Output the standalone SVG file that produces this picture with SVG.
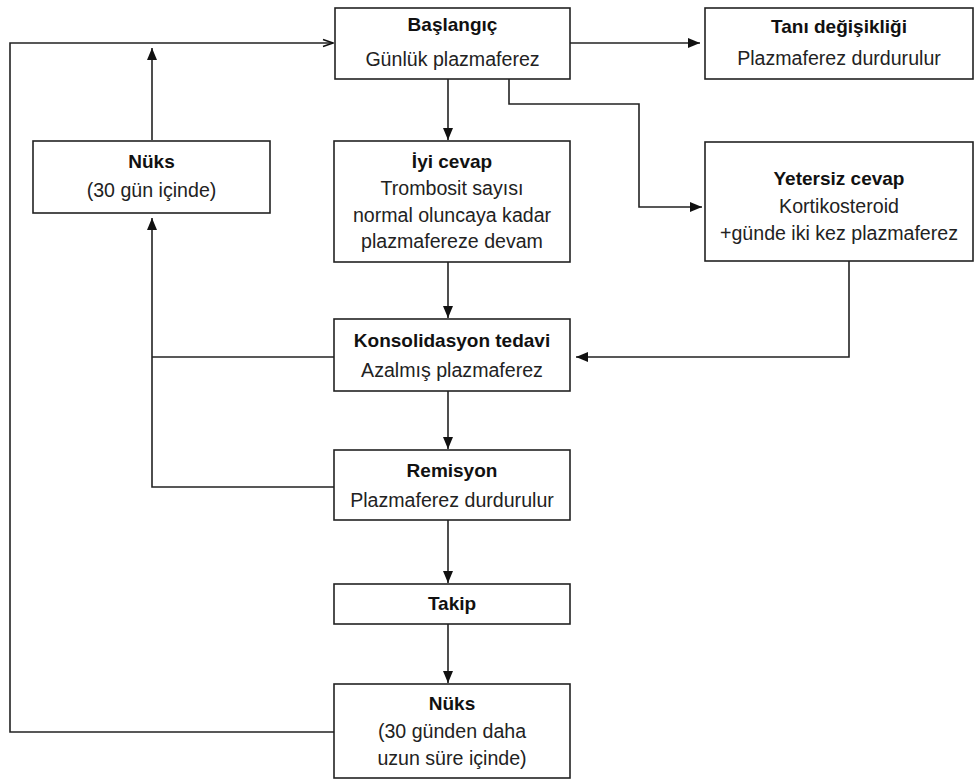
<svg xmlns="http://www.w3.org/2000/svg" width="976" height="780" viewBox="0 0 976 780">
<defs>
<marker id="arr" viewBox="0 0 12 10" refX="12" refY="5" markerWidth="12" markerHeight="10" markerUnits="userSpaceOnUse" orient="auto">
<path d="M0,0 L12,5 L0,10 Z" fill="#111"/>
</marker>
<marker id="open" viewBox="0 0 12 10" refX="11" refY="5" markerWidth="12" markerHeight="10" markerUnits="userSpaceOnUse" orient="auto">
<path d="M1,1.5 L11,5 L1,8.5" fill="none" stroke="#111" stroke-width="1.5"/>
</marker>
</defs>
<style>
.box{fill:#fff;stroke:#222;stroke-width:1.6}
.t{font-family:"Liberation Sans",Arial,sans-serif;font-size:19.6px;fill:#222;text-anchor:middle}
.b{font-family:"Liberation Sans",Arial,sans-serif;font-size:19px;font-weight:bold;fill:#111;text-anchor:middle}
.c{fill:none;stroke:#222;stroke-width:1.6}
</style>
<rect width="976" height="780" fill="#fff"/>
<g id="connectors">
<path class="c" d="M570,43 H700" marker-end="url(#arr)"/>
<path class="c" d="M509,79 V104 H639 V207 H702" marker-end="url(#arr)"/>
<path class="c" d="M448,79 V140" marker-end="url(#arr)"/>
<path class="c" d="M448,262 V318" marker-end="url(#arr)"/>
<path class="c" d="M849,261 V357 H576" marker-end="url(#arr)"/>
<path class="c" d="M448,391 V449" marker-end="url(#arr)"/>
<path class="c" d="M448,520 V583" marker-end="url(#arr)"/>
<path class="c" d="M448,624 V683" marker-end="url(#arr)"/>
<path class="c" d="M335,357 H152"/>
<path class="c" d="M335,487 H152 V218" marker-end="url(#arr)"/>
<path class="c" d="M152,140 V48" marker-end="url(#arr)"/>
<path class="c" d="M335,732 H10 V43 H333" marker-end="url(#open)"/>
</g>
<g id="baslangic">
<rect class="box" x="335" y="8" width="235" height="71"/>
<text class="b" x="452.5" y="31">Başlangıç</text>
<text class="t" x="452.5" y="66">Günlük plazmaferez</text>
</g>
<g id="tani">
<rect class="box" x="705" y="8" width="268" height="71"/>
<text class="b" x="839" y="33">Tanı değişikliği</text>
<text class="t" x="839" y="65">Plazmaferez durdurulur</text>
</g>
<g id="nuks30">
<rect class="box" x="33" y="141" width="237" height="72"/>
<text class="b" x="151.5" y="168">Nüks</text>
<text class="t" x="151.5" y="197">(30 gün içinde)</text>
</g>
<g id="iyicevap">
<rect class="box" x="334" y="141" width="236" height="121"/>
<text class="b" x="452" y="168">İyi cevap</text>
<text class="t" x="452" y="195">Trombosit sayısı</text>
<text class="t" x="452" y="222">normal oluncaya kadar</text>
<text class="t" x="452" y="248">plazmafereze devam</text>
</g>
<g id="yetersiz">
<rect class="box" x="705" y="142" width="268" height="119"/>
<text class="b" x="839" y="185">Yetersiz cevap</text>
<text class="t" x="839" y="213">Kortikosteroid</text>
<text class="t" x="839" y="240">+günde iki kez plazmaferez</text>
</g>
<g id="konsolidasyon">
<rect class="box" x="334" y="319" width="236" height="72"/>
<text class="b" x="452" y="347">Konsolidasyon tedavi</text>
<text class="t" x="452" y="377">Azalmış plazmaferez</text>
</g>
<g id="remisyon">
<rect class="box" x="334" y="450" width="236" height="70"/>
<text class="b" x="452" y="477">Remisyon</text>
<text class="t" x="452" y="507">Plazmaferez durdurulur</text>
</g>
<g id="takip">
<rect class="box" x="334" y="584" width="236" height="40"/>
<text class="b" x="452" y="610">Takip</text>
</g>
<g id="nukslong">
<rect class="box" x="334" y="684" width="236" height="94"/>
<text class="b" x="452" y="710">Nüks</text>
<text class="t" x="452" y="738">(30 günden daha</text>
<text class="t" x="452" y="765">uzun süre içinde)</text>
</g>
</svg>
